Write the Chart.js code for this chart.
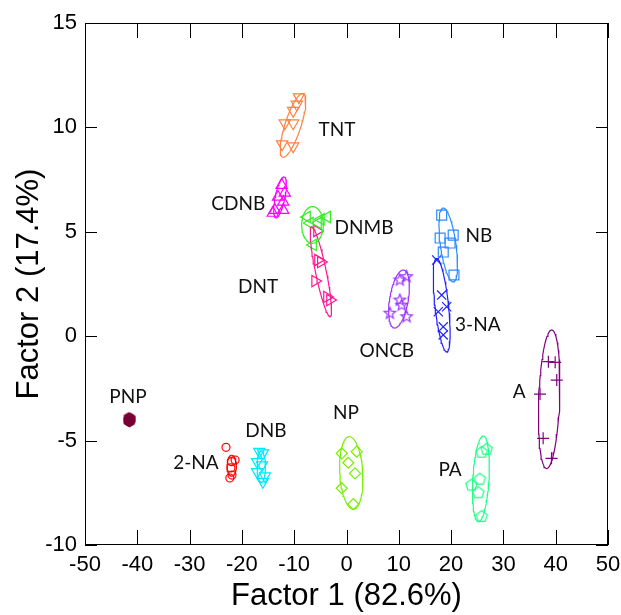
<!DOCTYPE html>
<html>
<head>
<meta charset="utf-8">
<script src="https://cdn.jsdelivr.net/npm/chart.js@4.4.1/dist/chart.umd.min.js"></script>
<style>
  html, body { margin: 0; padding: 0; background: #fff; }
  #wrap { width: 621px; height: 615px; }
</style>
</head>
<body>
<div id="wrap"><canvas id="myChart" width="621" height="615"></canvas></div>
<script>
// group names (also used as the labels drawn in the plot)
const groups = ['TNT', 'CDNB', 'DNMB', 'DNT', 'ONCB', 'NB', '3-NA', 'A', 'PA', 'NP', '2-NA', 'DNB', 'PNP'];

// scores
const tntX  = [-9.1, -9.5, -10.2, -11.8, -10.2, -12.3, -10.2];
const tntY  = [11.45, 11.1, 10.8, 10.2, 10.2, 9.2, 9.1];
const cdnbX = [-12.4, -11.8, -13.1, -12.1, -13.7, -12.1, -14.1];
const cdnbY = [7.24, 6.86, 6.67, 6.43, 6.04, 6.04, 5.9];
const dnmbX = [-7.55, -3.7, -7.0, -5.45, -6.4, -4.9];
const dnmbY = [5.71, 5.71, 5.42, 5.42, 4.37, 5.6];
const dntX  = [-5.64, -5.45, -4.9, -6.0, -3.73, -3.15];
const dntY  = [5.04, 3.65, 3.55, 2.64, 1.88, 1.73];
const oncbX = [10.2, 11.5, 10.2, 10.55, 8.3, 11.5];
const oncbY = [2.69, 2.85, 1.73, 1.49, 1.1, 0.93];
const nbX   = [18.2, 20.4, 17.9, 19.8, 18.5, 20.55];
const nbY   = [5.8, 4.84, 4.7, 4.46, 4.03, 2.93];
const na3X  = [17.25, 18.2, 19.16, 17.55, 18.5, 18.5];
const na3Y  = [3.65, 1.97, 1.41, 1.17, 0.45, 0.06];
const aX    = [38.6, 39.9, 40.2, 37.0, 37.6, 39.2];
const aY    = [-1.22, -1.25, -2.1, -2.77, -4.89, -5.85];
const paX   = [26.8, 25.85, 25.5, 23.9, 25.2, 25.85];
const paY   = [-5.42, -5.56, -6.85, -7.13, -7.5, -8.64];
const npX   = [-0.92, 1.95, 0.34, 1.63, -0.92, 1.3];
const npY   = [-5.61, -5.53, -6.06, -6.57, -7.28, -8.04];
const na2X  = [-23.04, -21.95, -21.3, -22.1, -21.9, -22.3];
const na2Y  = [-5.32, -6.01, -5.93, -6.31, -6.65, -6.79];
const dnbX  = [-16.67, -15.97, -17.1, -16.15, -17.1, -15.6, -16.0];
const dnbY  = [-5.53, -5.6, -6.02, -6.17, -6.5, -6.7, -6.97];
const pnpX  = [-41.6, -41.4, -41.5, -41.35, -41.65];
const pnpY  = [-3.92, -4.0, -4.08, -3.96, -4.04];

// confidence ellipses: centre, major half-axis offset (dx, dy), horizontal half-width w
const ellCx = [-10.23, -12.7, -6.5, -4.9, 10.04, 19.45, 18.2, 38.75, 25.7, 0.92, -21.95, -16.3, -41.5];
const ellCy = [10.1, 6.65, 5.33, 3.09, 1.78, 4.37, 1.49, -3.02, -6.83, -6.55, -6.2, -6.25, -4.0];
const ellDx = [1.86, 0.76, 0, -1.75, 0.82, -0.95, -0.96, 0.48, 0.45, -0.38, 0, 0, 0];
const ellDy = [1.53, 0.98, 0.88, 2.15, 1.39, 1.77, 2.24, 3.32, 2.05, 1.74, 0.5, 0.75, 0.2];
const ellW  = [1.6, 0.95, 2.07, 1.05, 1.8, 1.5, 1.3, 2.0, 1.55, 2.2, 0.9, 0.8, 0.6];

// label anchor points
const labelX = [-1.8, -20.7, 3.35, -16.9, 7.7, 25.3, 25.1, 33, -41.8, -0.1, -15.4, -28.8, 19.8];
const labelY = [9.87, 6.33, 5.18, 2.36, -0.68, 4.8, 0.54, -2.67, -2.91, -3.68, -4.54, -6.07, -6.4];
const labelText = ['TNT', 'CDNB', 'DNMB', 'DNT', 'ONCB', 'NB', '3-NA', 'A', 'PNP', 'NP', 'DNB', '2-NA', 'PA'];

const colors = ['#FF8040', '#FF00FF', '#33EE22', '#FF1493', '#9933FF', '#2E8BFF', '#1F1FFF',
                '#800080', '#22FF88', '#77EE00', '#FF0000', '#00E8FF', '#7A0035'];

function poly(n, color, fill, star) {
  var c = document.createElement('canvas');
  c.width = 15; c.height = 15;
  var g = c.getContext('2d');
  g.strokeStyle = color; g.fillStyle = color; g.lineWidth = 1.2;
  g.beginPath();
  var k = star ? n * 2 : n;
  for (var i = 0; i < k; i++) {
    var a = -Math.PI / 2 + i * 2 * Math.PI / k;
    var r = star && i % 2 ? 2.6 : 6;
    var px = 7.5 + r * Math.cos(a), py = 7.5 + r * Math.sin(a);
    if (i === 0) g.moveTo(px, py); else g.lineTo(px, py);
  }
  g.closePath();
  if (fill) g.fill(); else g.stroke();
  return c;
}

function pts(xs, ys) {
  return xs.map(function (x, i) { return { x: x, y: ys[i] }; });
}

function ellipse(i) {
  var out = [];
  for (var s = 0; s <= 72; s++) {
    var t = s / 72 * 2 * Math.PI;
    out.push({
      x: ellCx[i] + ellDx[i] * Math.cos(t) + ellW[i] * Math.sin(t),
      y: ellCy[i] + ellDy[i] * Math.cos(t)
    });
  }
  return out;
}

const series = [
  [tntX, tntY, 'triangle', 180, 6.5],
  [cdnbX, cdnbY, 'triangle', 0, 6.5],
  [dnmbX, dnmbY, 'triangle', 270, 6.5],
  [dntX, dntY, 'triangle', 90, 6.5],
  [oncbX, oncbY, poly(5, colors[4], false, true), 0, 6],
  [nbX, nbY, 'rect', 0, 7],
  [na3X, na3Y, 'crossRot', 0, 6.5],
  [aX, aY, 'cross', 0, 6],
  [paX, paY, poly(5, colors[8], false, false), 0, 6],
  [npX, npY, 'rectRot', 0, 5.5],
  [na2X, na2Y, 'circle', 0, 4],
  [dnbX, dnbY, 'triangle', 180, 6.5],
  [pnpX, pnpY, poly(6, colors[12], true, false), 0, 5]
];

var datasets = [];
groups.forEach(function (g, i) {
  datasets.push({
    label: g + ' ellipse',
    data: ellipse(i),
    showLine: true,
    borderColor: colors[i],
    borderWidth: 1.2,
    pointRadius: 0,
    fill: false,
    tension: 0
  });
});
series.forEach(function (s, i) {
  datasets.push({
    label: groups[i],
    data: pts(s[0], s[1]),
    pointStyle: s[2],
    rotation: s[3],
    pointRadius: s[4],
    pointBorderColor: colors[i],
    pointBackgroundColor: 'rgba(0,0,0,0)',
    pointBorderWidth: 1.2,
    showLine: false
  });
});

// frame, inward ticks and group labels
const framePlugin = {
  id: 'frame',
  afterDraw(chart) {
    var ctx = chart.ctx, a = chart.chartArea;
    var xs = chart.scales.x, ys = chart.scales.y;
    ctx.save();
    ctx.strokeStyle = '#000';
    ctx.lineWidth = 1;
    ctx.strokeRect(a.left + 0.5, a.top + 0.5, a.right - a.left - 1, a.bottom - a.top - 1);
    ctx.beginPath();
    xs.ticks.forEach(function (t) {
      var px = Math.round(xs.getPixelForValue(t.value)) + 0.5;
      ctx.moveTo(px, a.bottom); ctx.lineTo(px, a.bottom - 15);
      ctx.moveTo(px, a.top); ctx.lineTo(px, a.top + 15);
    });
    ys.ticks.forEach(function (t) {
      var py = Math.round(ys.getPixelForValue(t.value)) + 0.5;
      ctx.moveTo(a.left, py); ctx.lineTo(a.left + 12, py);
      ctx.moveTo(a.right, py); ctx.lineTo(a.right - 12, py);
    });
    ctx.stroke();
    ctx.fillStyle = '#111';
    ctx.font = '19px Lato, "Open Sans", sans-serif';
    ctx.textAlign = 'center';
    ctx.textBaseline = 'middle';
    labelText.forEach(function (txt, i) {
      ctx.fillText(txt, xs.getPixelForValue(labelX[i]), ys.getPixelForValue(labelY[i]));
    });
    ctx.restore();
  }
};

var ctx = document.getElementById('myChart').getContext('2d');
var myChart = new Chart(ctx, {
  type: 'scatter',
  data: { datasets: datasets },
  options: {
    responsive: false,
    animation: false,
    layout: { padding: { top: 23, right: 13, left: 0, bottom: 0 } },
    plugins: {
      legend: { display: false },
      tooltip: { enabled: false }
    },
    scales: {
      x: {
        type: 'linear',
        min: -50,
        max: 50,
        ticks: { stepSize: 10, color: '#000', padding: 7, font: { size: 22, family: '"Liberation Sans", Arial' } },
        grid: { display: false, drawTicks: false },
        border: { display: false },
        title: { display: true, text: 'Factor 1 (82.6%)', color: '#000', padding: 0, font: { size: 31, family: '"Liberation Sans", Arial' } },
        afterFit: function (s) { s.height = 70; s.paddingLeft = 0; s.paddingRight = 0; }
      },
      y: {
        type: 'linear',
        min: -10,
        max: 15,
        ticks: { stepSize: 5, color: '#000', padding: 8, font: { size: 22, family: '"Liberation Sans", Arial' } },
        grid: { display: false, drawTicks: false },
        border: { display: false },
        title: { display: true, text: 'Factor 2 (17.4%)', color: '#000', padding: 11, font: { size: 31, family: '"Liberation Sans", Arial' } },
        afterFit: function (s) { s.width = 85; s.paddingTop = 0; s.paddingBottom = 0; }
      }
    }
  },
  plugins: [framePlugin]
});
</script>
</body>
</html>
